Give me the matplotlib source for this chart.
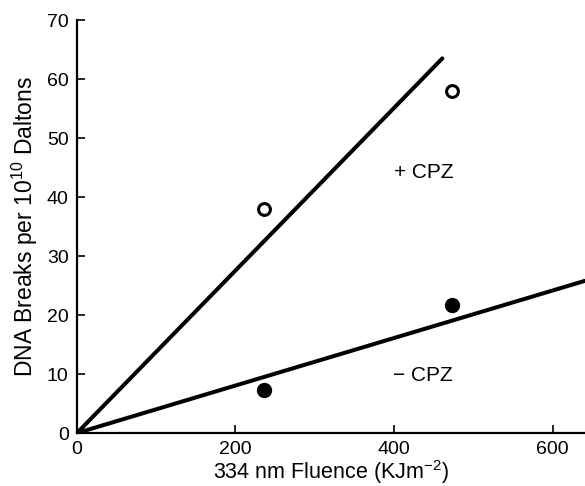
import matplotlib
matplotlib.use("Agg")
import matplotlib.pyplot as plt

plt.rcParams['font.family'] = ['Liberation Sans', 'DejaVu Sans']
plt.rcParams['mathtext.default'] = 'regular'

# measured points
fluence = [236, 473]
breaks_plus_cpz = [38, 58]
breaks_minus_cpz = [7.3, 21.7]

# fitted lines (through the origin)
plus_fit_x = [0, 461]
plus_fit_y = [0, 63.5]
minus_fit_x = [0, 641]
minus_fit_y = [0, 25.8]

x_ticks = [0, 200, 400, 600]
y_ticks = [0, 10, 20, 30, 40, 50, 60, 70]

fig = plt.figure(figsize=(5.85, 4.86), dpi=100)
ax = fig.add_axes([0.1316, 0.109, 0.8684, 0.8498])

ax.plot(plus_fit_x, plus_fit_y, color='black', linewidth=2.9, solid_capstyle='round')
ax.plot(minus_fit_x, minus_fit_y, color='black', linewidth=2.9, solid_capstyle='round')
ax.plot(fluence, breaks_plus_cpz, 'o', markersize=8.5, markerfacecolor='white',
        markeredgecolor='black', markeredgewidth=2.2, zorder=3)
ax.plot(fluence, breaks_minus_cpz, 'o', markersize=10, color='black', zorder=3)

ax.text(437, 44.2, '+ CPZ', fontsize=15, ha='center', va='center')
ax.text(437, 9.8, '\u2212 CPZ', fontsize=15, ha='center', va='center')

ax.set_xlim(0, 641)
ax.set_ylim(0, 70)
ax.set_xticks(x_ticks)
ax.set_yticks(y_ticks)

for side in ['top', 'right']:
    ax.spines[side].set_visible(False)
ax.spines['left'].set_linewidth(1.6)
ax.spines['bottom'].set_linewidth(1.6)

ax.tick_params(direction='in', length=6, width=1.2, labelsize=14, pad=6)

ax.set_xlabel('334 nm Fluence (KJm$^{-2}$)', fontsize=15.5, labelpad=0)
ax.set_ylabel('DNA Breaks per 10$^{10}$ Daltons', fontsize=16.5, labelpad=5)

fig.savefig('out.png', dpi=100)
